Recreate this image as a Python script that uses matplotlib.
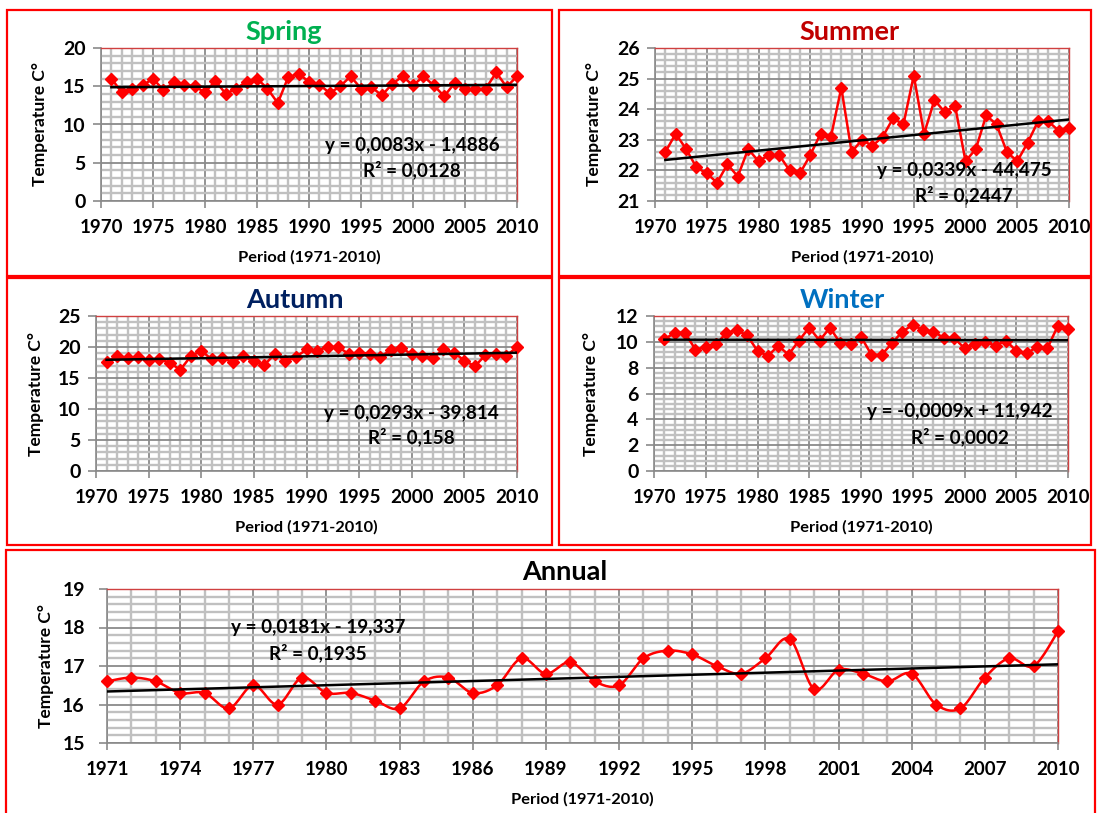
import numpy as np
import matplotlib
matplotlib.use("Agg")
import matplotlib.pyplot as plt
from matplotlib.patches import Rectangle
from matplotlib.ticker import MultipleLocator

# ---------------- data ----------------
years = list(range(1971, 2011))

spring = [16.0, 14.2, 14.6, 15.1, 16.0, 14.5, 15.5, 15.2, 15.0, 14.2,
          15.7, 14.0, 14.7, 15.6, 16.0, 14.7, 12.8, 16.2, 16.6, 15.6,
          15.2, 14.1, 15.0, 16.3, 14.7, 14.9, 13.8, 15.3, 16.3, 15.1,
          16.3, 15.1, 13.7, 15.4, 14.6, 14.6, 14.7, 16.8, 14.9, 16.3]

summer = [22.6, 23.2, 22.7, 22.1, 21.9, 21.6, 22.2, 21.8, 22.7, 22.3,
          22.5, 22.5, 22.0, 21.9, 22.5, 23.2, 23.1, 24.7, 22.6, 23.0,
          22.8, 23.1, 23.7, 23.5, 25.1, 23.2, 24.3, 23.9, 24.1, 22.3,
          22.7, 23.8, 23.5, 22.6, 22.3, 22.9, 23.6, 23.6, 23.3, 23.4]

autumn = [17.6, 18.5, 18.3, 18.4, 17.9, 18.0, 17.5, 16.3, 18.5, 19.4,
          18.0, 18.2, 17.6, 18.5, 17.7, 17.1, 18.9, 17.8, 18.4, 19.6,
          19.4, 20.0, 20.0, 18.9, 19.1, 18.9, 18.4, 19.5, 19.9, 18.8,
          18.5, 18.2, 19.6, 19.1, 17.8, 16.9, 18.7, 18.8, 18.6, 20.0]

winter = [10.2, 10.7, 10.7, 9.4, 9.6, 9.8, 10.7, 10.9, 10.5, 9.3,
          8.9, 9.7, 9.0, 10.1, 11.1, 10.1, 11.1, 9.9, 9.8, 10.4,
          9.0, 9.0, 9.9, 10.8, 11.3, 10.9, 10.8, 10.3, 10.3, 9.5,
          9.8, 10.0, 9.7, 10.1, 9.3, 9.1, 9.6, 9.5, 11.2, 11.0]

annual = [16.6, 16.7, 16.6, 16.3, 16.3, 15.9, 16.5, 16.0, 16.7, 16.3,
          16.3, 16.1, 15.9, 16.6, 16.7, 16.3, 16.5, 17.2, 16.8, 17.1,
          16.6, 16.5, 17.2, 17.4, 17.3, 17.0, 16.8, 17.2, 17.7, 16.4,
          16.9, 16.8, 16.6, 16.8, 16.0, 15.9, 16.7, 17.2, 17.0, 17.9]

# trendline coefficients (slope, intercept) as printed on the chart
trend_spring = [0.0083, -1.4886]
trend_summer = [0.0339, -44.475]
trend_autumn = [0.0293, -39.814]
trend_winter = [-0.0009, 11.942]
trend_annual = [0.0181, -19.337]

eq_spring = ["y = 0,0083x - 1,4886", "R² = 0,0128"]
eq_summer = ["y = 0,0339x - 44,475", "R² = 0,2447"]
eq_autumn = ["y = 0,0293x - 39,814", "R² = 0,158"]
eq_winter = ["y = -0,0009x + 11,942", "R² = 0,0002"]
eq_annual = ["y = 0,0181x - 19,337", "R² = 0,1935"]

titles = ["Spring", "Summer", "Autumn", "Winter", "Annual"]
ylabel = "Temperature C°"
xlabel = "Period (1971-2010)"

# ---------------- style / layout ----------------
plt.rcParams["font.family"] = ["Lato", "DejaVu Sans"]
W, H = 1097, 813
fig = plt.figure(figsize=(W / 100, H / 100), dpi=100)

RED = "#ff0000"
GRID_MAJ = "#8a8a8a"
GRID_MIN = "#c0c0c0"
AX_GRAY = "#8a8a8a"


def fx(x):
    return x / W


def fy(y):
    return 1 - y / H


def box(x0, y0, x1, y1):
    fig.patches.append(Rectangle((fx(x0), fy(y1)), fx(x1 - x0), (y1 - y0) / H,
                                 transform=fig.transFigure, fill=False,
                                 ec=RED, lw=1.6, zorder=0))


def catmull(x, y, n=16):
    x = np.asarray(x, float)
    y = np.asarray(y, float)
    px = np.concatenate([[x[0]], x, [x[-1]]])
    py = np.concatenate([[y[0]], y, [y[-1]]])
    t = np.linspace(0, 1, n)
    xs, ys = [], []
    for i in range(len(x) - 1):
        for P, out in ((px, xs), (py, ys)):
            p0, p1, p2, p3 = P[i], P[i + 1], P[i + 2], P[i + 3]
            c = 0.5 * (2 * p1 + (-p0 + p2) * t + (2 * p0 - 5 * p1 + 4 * p2 - p3) * t ** 2
                       + (-p0 + 3 * p1 - 3 * p2 + p3) * t ** 3)
            out.extend(c if i == 0 else c[1:])
    return np.array(xs), np.array(ys)


panels = [
    dict(title=titles[0], tc="#00b050", vals=spring, tr=trend_spring, eq=eq_spring,
         ax=(101, 48, 517, 201), ylim=(0, 20), ymaj=5, ymin=1, xlim=(1970, 2010), xmaj=5,
         tpos=(284, 32), epos=(412, 145, 170), ylx=40, box=(7, 10, 552, 276), smooth=False),
    dict(title=titles[1], tc="#c00000", vals=summer, tr=trend_summer, eq=eq_summer,
         ax=(655, 48, 1069, 201), ylim=(21, 26), ymaj=1, ymin=0.2, xlim=(1970, 2010), xmaj=5,
         tpos=(849, 32), epos=(964, 170, 195), ylx=594, box=(559, 10, 1091, 276), smooth=False),
    dict(title=titles[2], tc="#002060", vals=autumn, tr=trend_autumn, eq=eq_autumn,
         ax=(96, 316, 517, 471), ylim=(0, 25), ymaj=5, ymin=1, xlim=(1970, 2010), xmaj=5,
         tpos=(295, 300), epos=(411, 413, 437), ylx=36, box=(7, 278, 552, 545), smooth=False),
    dict(title=titles[3], tc="#0070c0", vals=winter, tr=trend_winter, eq=eq_winter,
         ax=(654, 316, 1068, 471), ylim=(0, 12), ymaj=2, ymin=0.4, xlim=(1970, 2010), xmaj=5,
         tpos=(842, 300), epos=(960, 411, 437), ylx=591, box=(559, 278, 1091, 545), smooth=False),
    dict(title=titles[4], tc="#000000", vals=annual, tr=trend_annual, eq=eq_annual,
         ax=(107, 589, 1058, 743), ylim=(15, 19), ymaj=1, ymin=0.2, xlim=(1971, 2010), xmaj=3,
         tpos=(565, 572), epos=(318, 628, 653), ylx=46, box=(6, 550, 1095, 815), smooth=True),
]

for p in panels:
    box(*p["box"])
    l, t, r, b = p["ax"]
    ax = fig.add_axes([fx(l), fy(b), fx(r - l), (b - t) / H])
    ax.set_xlim(*p["xlim"])
    ax.set_ylim(*p["ylim"])
    x0 = p["xlim"][0]
    ax.xaxis.set_major_locator(MultipleLocator(p["xmaj"], offset=x0 % p["xmaj"]))
    ax.xaxis.set_minor_locator(MultipleLocator(1))
    ax.yaxis.set_major_locator(MultipleLocator(p["ymaj"]))
    ax.yaxis.set_minor_locator(MultipleLocator(p["ymin"]))
    ax.grid(which="minor", color=GRID_MIN, lw=1.7, zorder=0)
    ax.grid(which="major", color=GRID_MAJ, lw=1.3, zorder=0)
    ax.set_axisbelow(True)
    for s in ("top", "right"):
        ax.spines[s].set_color("#d04040")
        ax.spines[s].set_linewidth(1.0)
    for s in ("left", "bottom"):
        ax.spines[s].set_color(AX_GRAY)
        ax.spines[s].set_linewidth(1.2)
    ax.tick_params(which="minor", length=0)
    ax.tick_params(axis="y", which="major", length=6, width=1.2, color=AX_GRAY,
                   pad=5 if not p["smooth"] else 10, labelsize=14)
    ax.tick_params(axis="x", which="major", length=5, width=1.2, color=AX_GRAY,
                   pad=8, labelsize=13.5)
    for lab in ax.get_xticklabels() + ax.get_yticklabels():
        lab.set_fontweight("bold")

    if p["smooth"]:
        sx, sy = catmull(years, p["vals"])
        ax.plot(sx, sy, color=RED, lw=1.8, zorder=3, clip_on=False)
        ax.plot(years, p["vals"], ls="none", marker="D", ms=6.5, color=RED, zorder=4,
                clip_on=False)
    else:
        ax.plot(years, p["vals"], color=RED, lw=1.8, marker="D", ms=6.5, zorder=3,
                clip_on=False)

    tx = np.array([years[0], years[-1]], float)
    ax.plot(tx, p["tr"][0] * tx + p["tr"][1], color="black", lw=1.8, zorder=5)

    ax.set_ylabel(ylabel, fontsize=12.5, fontweight="bold")
    ax.yaxis.label.set_va("center")
    ax.yaxis.set_label_coords((p["ylx"] - l) / (r - l), 0.5)
    ax.set_xlabel(xlabel, fontsize=11.8, fontweight="bold")
    ax.xaxis.label.set_va("center")
    ax.xaxis.set_label_coords(0.5, -56 / (b - t))

    fig.text(fx(p["tpos"][0]), fy(p["tpos"][1]), p["title"], color=p["tc"],
             fontsize=19.5, fontweight="bold", ha="center", va="center")
    ex, ey1, ey2 = p["epos"]
    fig.text(fx(ex), fy(ey1), p["eq"][0], fontsize=13.6, fontweight="bold",
             ha="center", va="center", zorder=10)
    fig.text(fx(ex), fy(ey2), p["eq"][1], fontsize=13.6, fontweight="bold",
             ha="center", va="center", zorder=10)

fig.savefig("out.png", dpi=100)
